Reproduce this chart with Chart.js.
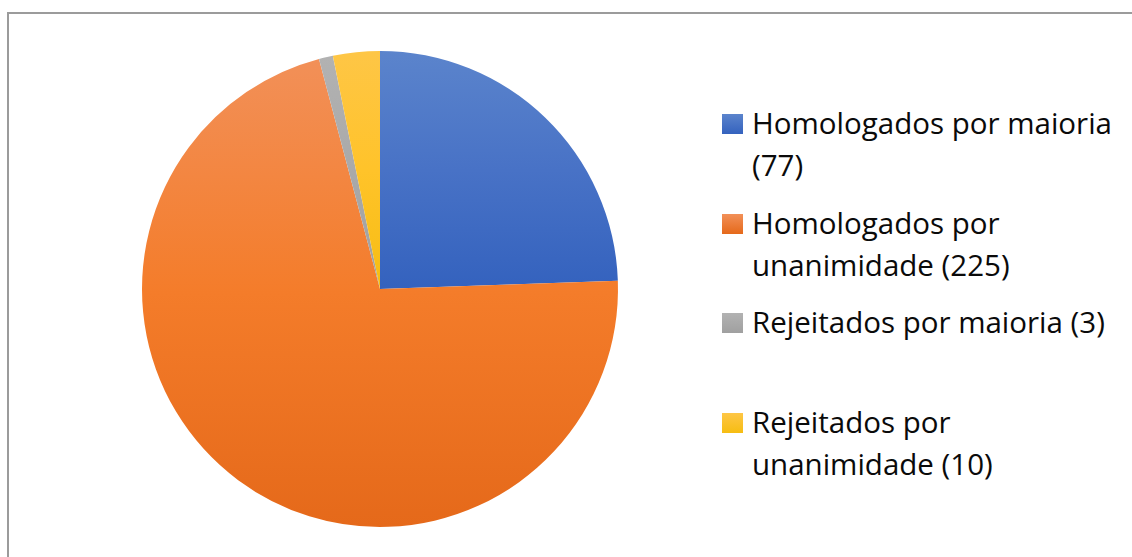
<!DOCTYPE html>
<html>
<head>
<meta charset="utf-8">
<script src="https://cdn.jsdelivr.net/npm/chart.js@4.4.1/dist/chart.umd.min.js"></script>
<style>
  html, body { margin: 0; padding: 0; background: #fff; width: 1132px; height: 557px; overflow: hidden; }
  #frame { position: absolute; left: 7px; top: 12px; width: 1140px; height: 560px; border: 2px solid #9b9b9b; box-sizing: border-box; }
  #wrap { position: absolute; left: 0; top: 0; width: 700px; height: 557px; }
  #legenda { position: absolute; left: 722px; top: 0; font-family: "Open Sans", sans-serif; font-size: 29.5px; color: #0a0a0a; }
  .item { position: absolute; left: 0; width: 405px; }
  .marca { position: absolute; left: 0; top: 0; width: 21px; height: 20px; }
  .texto { position: absolute; left: 30px; top: -12px; width: 372px; line-height: 42px; }
</style>
</head>
<body>
<div id="frame"></div>
<div id="wrap"><canvas id="pizza"></canvas></div>
<div id="legenda"></div>
<script>
// Dados do gráfico
const categorias = ['Homologados por maioria', 'Homologados por unanimidade', 'Rejeitados por maioria', 'Rejeitados por unanimidade'];
const valores = [77, 225, 3, 10];

// Cores (topo, meio, base) de cada fatia - gradiente estilo Excel
const coresTopo = ['#5b84cc', '#f29058', '#b2b2b2', '#fec646'];
const coresMeio = ['#4872c6', '#f47c2a', '#a9a9a9', '#ffc32a'];
const coresBase = ['#3462be', '#e5691a', '#a0a0a0', '#f6bd12'];

// Posição vertical de cada item da legenda
const legendaTopo = [114, 214, 313, 413];

// Calcula a extensão vertical de cada fatia para montar o gradiente
function extensaoFatia(i, cy, r) {
    const total = valores.reduce((a, b) => a + b, 0);
    let ini = 0;
    for (let k = 0; k < i; k++) ini += valores[k] / total * 2 * Math.PI;
    const fim = ini + valores[i] / total * 2 * Math.PI;
    const ys = [cy, cy - r * Math.cos(ini), cy - r * Math.cos(fim)];
    if (ini <= 0 || fim >= 2 * Math.PI) ys.push(cy - r);
    if (ini <= Math.PI && fim >= Math.PI) ys.push(cy + r);
    return [Math.min(...ys), Math.max(...ys)];
}

function corFatia(context) {
    const chart = context.chart;
    const area = chart.chartArea;
    const i = context.dataIndex;
    if (!area) return coresMeio[i];
    const cy = (area.top + area.bottom) / 2;
    const r = Math.min(area.right - area.left, area.bottom - area.top) / 2;
    const [y0, y1] = extensaoFatia(i, cy, r);
    const g = chart.ctx.createLinearGradient(0, y0, 0, y1);
    g.addColorStop(0, coresTopo[i]);
    g.addColorStop(0.5, coresMeio[i]);
    g.addColorStop(1, coresBase[i]);
    return g;
}

const ctx = document.getElementById('pizza').getContext('2d');
const chart = new Chart(ctx, {
    type: 'pie',
    data: {
        labels: categorias,
        datasets: [{
            data: valores,
            backgroundColor: corFatia,
            borderWidth: 0
        }]
    },
    options: {
        responsive: true,
        maintainAspectRatio: false,
        animation: false,
        layout: { padding: { left: 142, top: 51, right: 82, bottom: 30 } },
        plugins: {
            legend: { display: false },
            tooltip: { enabled: false }
        }
    }
});

// Legenda em HTML (texto quebra como no original)
const legenda = document.getElementById('legenda');
categorias.forEach((nome, i) => {
    const item = document.createElement('div');
    item.className = 'item';
    item.style.top = legendaTopo[i] + 'px';
    const marca = document.createElement('div');
    marca.className = 'marca';
    marca.style.background = `linear-gradient(${coresTopo[i]}, ${coresBase[i]})`;
    const texto = document.createElement('div');
    texto.className = 'texto';
    texto.textContent = `${nome} (${valores[i]})`;
    item.appendChild(marca);
    item.appendChild(texto);
    legenda.appendChild(item);
});
</script>
</body>
</html>
